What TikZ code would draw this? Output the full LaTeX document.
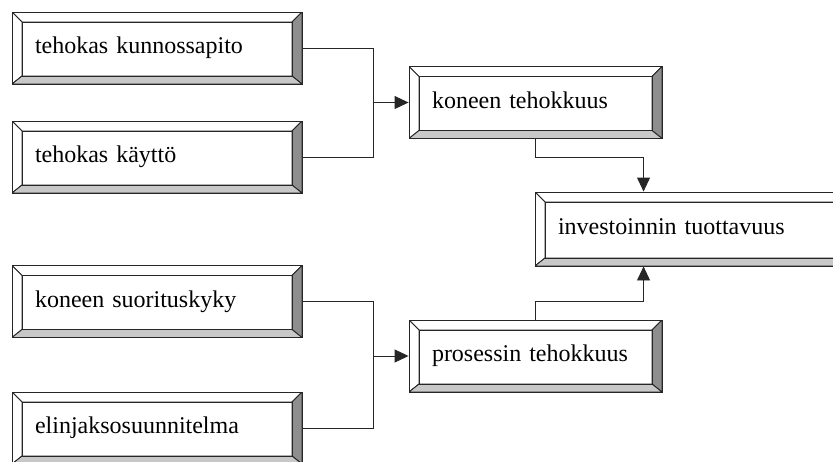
\documentclass[tikz,border=0pt]{standalone}
\usepackage{fontspec}
\setmainfont{Liberation Serif}
\usetikzlibrary{positioning,arrows.meta}

\definecolor{bevelDark}{HTML}{8E8E8E}
\definecolor{bevelLight}{HTML}{C8C8C8}

\begin{document}
\begin{tikzpicture}[
x=1pt, y=-1pt,
bevel/.style={draw=black!85, line width=0.9pt, text width=#1, minimum height=72pt, inner xsep=23pt, inner ysep=0pt, align=left, text height=16pt, text depth=5pt, font=\fontsize{24}{28}\selectfont,
  path picture={
    \path (path picture bounding box.north west) coordinate (nw)
          (path picture bounding box.north east) coordinate (ne)
          (path picture bounding box.south west) coordinate (sw)
          (path picture bounding box.south east) coordinate (se);
    \filldraw[fill=white, draw=black!85, line width=0.9pt] (nw) -- (ne) -- ([shift={(-10pt,-10pt)}]ne) -- ([shift={(10pt,-10pt)}]nw) -- cycle;
    \filldraw[fill=white, draw=black!85, line width=0.9pt] (nw) -- (sw) -- ([shift={(10pt,8pt)}]sw) -- ([shift={(10pt,-10pt)}]nw) -- cycle;
    \filldraw[fill=bevelDark, draw=black!85, line width=0.9pt] (ne) -- (se) -- ([shift={(-10pt,8pt)}]se) -- ([shift={(-10pt,-10pt)}]ne) -- cycle;
    \filldraw[fill=bevelLight, draw=black!85, line width=0.9pt] (sw) -- (se) -- ([shift={(-10pt,8pt)}]se) -- ([shift={(10pt,8pt)}]sw) -- cycle;
    \draw[black!85, line width=0.9pt] ([shift={(10pt,-10pt)}]nw) rectangle ([shift={(-10pt,8pt)}]se);
  }},
bevel/.default=244pt,
link/.style={draw=black!85, line width=0.9pt},
arrow/.style={link, -{Triangle[length=14pt, width=13pt]}}
]
\path[use as bounding box, clip] (0,0) rectangle (833,461);

% left column
\node[bevel] (kunnossapito) at (157,48) {tehokas kunnossapito};
\node[bevel] (kaytto) at (157,157) {tehokas käyttö};
\node[bevel] (suorituskyky) at (157,301.5) {koneen suorituskyky};
\node[bevel] (elinjakso) at (157,428) {elinjaksosuunnitelma};

% middle and right
\node[bevel=207pt] (kone) at (535.5,102.5) {koneen tehokkuus};
\node[bevel=207pt] (prosessi) at (535.5,356) {prosessin tehokkuus};
\node[bevel=264pt, minimum height=74pt] (investointi) at (690,229) {investoinnin tuottavuus};

% connectors
\coordinate[left=35pt of kone.west] (jkone);
\coordinate[left=35pt of prosessi.west] (jprosessi);
\draw[link] (kunnossapito.east) -| (jkone) |- (kaytto.east);
\draw[arrow] (jkone) -- (kone.west);
\draw[link] (suorituskyky.east) -| (jprosessi) |- (elinjakso.east);
\draw[arrow] (jprosessi) -- (prosessi.west);
\draw[arrow] (kone.south) -- ++(0,18) -| ([xshift=109pt]investointi.north west);
\draw[arrow] (prosessi.north) -- ++(0,-18) -| ([xshift=109pt]investointi.south west);
\end{tikzpicture}
\end{document}
